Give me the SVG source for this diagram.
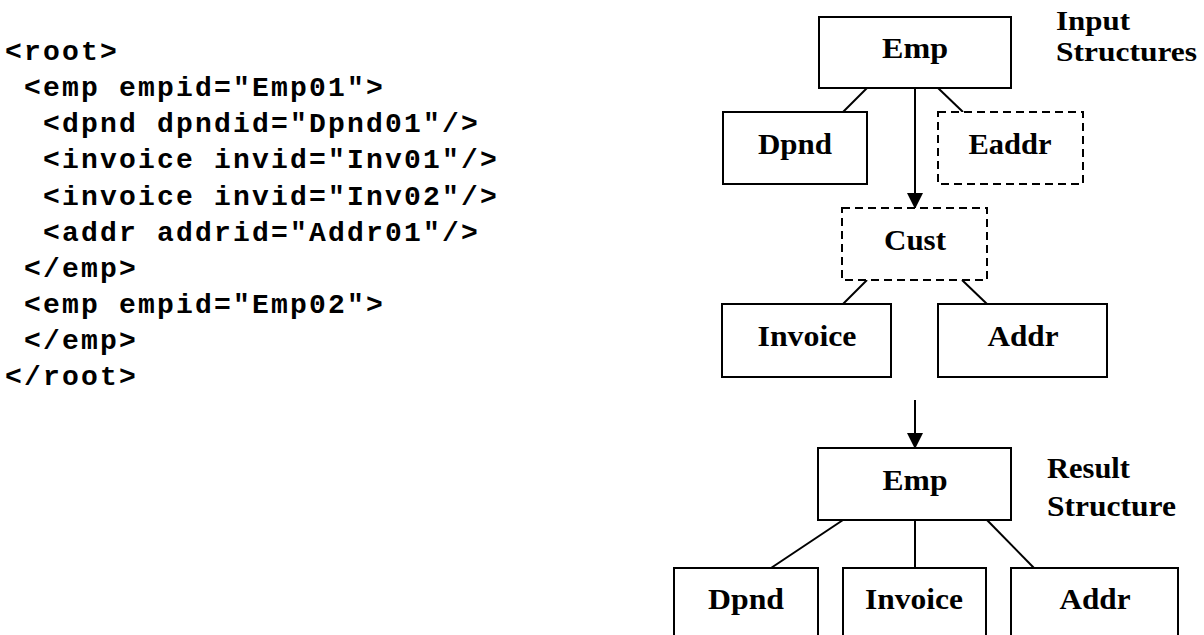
<svg xmlns="http://www.w3.org/2000/svg" width="1204" height="635" viewBox="0 0 1204 635">
<style>
.code{font-family:"Liberation Mono","Courier New",monospace;font-weight:bold;font-size:28px;letter-spacing:2.2px;fill:#000}
.lbl{font-family:"Liberation Serif","Times New Roman",serif;font-weight:bold;font-size:30px;fill:#000}
.side{font-size:28px}
.box{fill:#fff;stroke:#000;stroke-width:2}
.dash{fill:#fff;stroke:#000;stroke-width:2;stroke-dasharray:8,5}
.con{stroke:#000;stroke-width:2;fill:none}
</style>
<defs>
<marker id="ah" markerWidth="16" markerHeight="16" viewBox="0 0 16 16" refX="15" refY="8" orient="auto" markerUnits="userSpaceOnUse">
<path d="M0,0 L16,8 L0,16 Z" fill="#000"/>
</marker>
</defs>
<rect width="1204" height="635" fill="#fff"/>
<g id="code">
<text class="code" x="5" y="60">&lt;root&gt;</text>
<text class="code" x="24" y="96">&lt;emp empid="Emp01"&gt;</text>
<text class="code" x="43" y="132">&lt;dpnd dpndid="Dpnd01"/&gt;</text>
<text class="code" x="43" y="168">&lt;invoice invid="Inv01"/&gt;</text>
<text class="code" x="43" y="205">&lt;invoice invid="Inv02"/&gt;</text>
<text class="code" x="43" y="241">&lt;addr addrid="Addr01"/&gt;</text>
<text class="code" x="24" y="277">&lt;/emp&gt;</text>
<text class="code" x="24" y="313">&lt;emp empid="Emp02"&gt;</text>
<text class="code" x="24" y="349">&lt;/emp&gt;</text>
<text class="code" x="5" y="385">&lt;/root&gt;</text>
</g>
<g id="connectors">
<line class="con" x1="867" y1="88" x2="843" y2="112"/>
<line class="con" x1="938" y1="88" x2="963" y2="112"/>
<line class="con" x1="915" y1="88" x2="915" y2="208" marker-end="url(#ah)"/>
<line class="con" x1="867" y1="280" x2="843" y2="304"/>
<line class="con" x1="962" y1="280" x2="987" y2="304"/>
<line class="con" x1="915" y1="400" x2="915" y2="448" marker-end="url(#ah)"/>
<line class="con" x1="843" y1="520" x2="771" y2="568"/>
<line class="con" x1="915" y1="520" x2="915" y2="568"/>
<line class="con" x1="987" y1="520" x2="1034" y2="568"/>
</g>
<g id="input-label">
<text class="lbl side" x="1056" y="30" textLength="74" lengthAdjust="spacingAndGlyphs">Input</text>
<text class="lbl side" x="1056" y="61" textLength="141" lengthAdjust="spacingAndGlyphs">Structures</text>
</g>
<g id="emp-in">
<rect class="box" x="819" y="17" width="192" height="71"/>
<text class="lbl" x="915" y="58" text-anchor="middle" textLength="66" lengthAdjust="spacingAndGlyphs">Emp</text>
</g>
<g id="dpnd-in">
<rect class="box" x="723" y="112" width="144" height="72"/>
<text class="lbl" x="795" y="154" text-anchor="middle" textLength="74" lengthAdjust="spacingAndGlyphs">Dpnd</text>
</g>
<g id="eaddr-in">
<rect class="dash" x="938" y="112" width="145" height="72"/>
<text class="lbl" x="1010" y="154" text-anchor="middle" textLength="83" lengthAdjust="spacingAndGlyphs">Eaddr</text>
</g>
<g id="cust-in">
<rect class="dash" x="842" y="208" width="145" height="72"/>
<text class="lbl" x="915" y="250" text-anchor="middle" textLength="62" lengthAdjust="spacingAndGlyphs">Cust</text>
</g>
<g id="invoice-in">
<rect class="box" x="722" y="304" width="169" height="73"/>
<text class="lbl" x="807" y="346" text-anchor="middle" textLength="99" lengthAdjust="spacingAndGlyphs">Invoice</text>
</g>
<g id="addr-in">
<rect class="box" x="938" y="304" width="169" height="73"/>
<text class="lbl" x="1023" y="346" text-anchor="middle" textLength="71" lengthAdjust="spacingAndGlyphs">Addr</text>
</g>
<g id="result-label">
<text class="lbl" x="1047" y="478" textLength="83" lengthAdjust="spacingAndGlyphs">Result</text>
<text class="lbl" x="1047" y="516" textLength="129" lengthAdjust="spacingAndGlyphs">Structure</text>
</g>
<g id="emp-out">
<rect class="box" x="818" y="448" width="193" height="72"/>
<text class="lbl" x="915" y="490" text-anchor="middle" textLength="65" lengthAdjust="spacingAndGlyphs">Emp</text>
</g>
<g id="dpnd-out">
<rect class="box" x="674" y="568" width="144" height="80"/>
<text class="lbl" x="746" y="609" text-anchor="middle" textLength="76" lengthAdjust="spacingAndGlyphs">Dpnd</text>
</g>
<g id="invoice-out">
<rect class="box" x="843" y="568" width="143" height="80"/>
<text class="lbl" x="914" y="609" text-anchor="middle" textLength="98" lengthAdjust="spacingAndGlyphs">Invoice</text>
</g>
<g id="addr-out">
<rect class="box" x="1011" y="568" width="167" height="80"/>
<text class="lbl" x="1095" y="609" text-anchor="middle" textLength="71" lengthAdjust="spacingAndGlyphs">Addr</text>
</g>
</svg>
